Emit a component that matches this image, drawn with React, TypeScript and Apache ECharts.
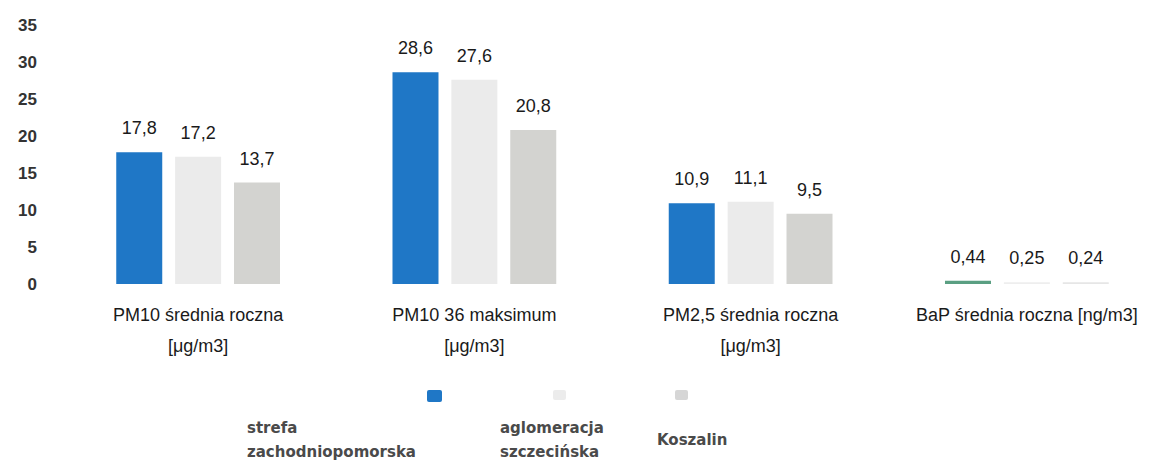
import React, { useEffect, useRef } from "react";
import * as echarts from "echarts";

const categories = [
  "PM10 średnia roczna\n[μg/m3]",
  "PM10 36 maksimum\n[μg/m3]",
  "PM2,5 średnia roczna\n[μg/m3]",
  "BaP średnia roczna [ng/m3]",
];
const seriesNames = ["strefa zachodniopomorska", "aglomeracja szczecińska", "Koszalin"];
const legendLabels = ["strefa\nzachodniopomorska", "aglomeracja\nszczecińska", "Koszalin"];
const strefa = [17.8, 28.6, 10.9, 0.44];
const aglomeracja = [17.2, 27.6, 11.1, 0.25];
const koszalin = [13.7, 20.8, 9.5, 0.24];
const yMin = 0;
const yMax = 35;
const yStep = 5;

const barColors = ["#1f77c6", "#ebebeb", "#d3d3d0"];
const bapColors = ["#5a9f82", "#eeeeee", "#e6e6e6"];

const fmt = (v: number) => String(v).replace(".", ",");

export default function App() {
  const ref = useRef<HTMLDivElement>(null);
  useEffect(() => {
    if (!ref.current) return;
    const chart = echarts.init(ref.current, null, { renderer: "svg" });
    const values = [strefa, aglomeracja, koszalin];
    const font = "Liberation Sans";
    const series = values.map((vals, si) => ({
      name: seriesNames[si],
      type: "bar",
      barWidth: 46,
      barGap: "28%",
      data: vals.map((v, ci) =>
        ci === 3 ? { value: v, itemStyle: { color: bapColors[si] } } : v
      ),
      itemStyle: { color: barColors[si] },
      label: {
        show: true,
        position: "top",
        distance: 15,
        formatter: (p: any) => fmt(p.value),
        fontFamily: font,
        fontSize: 18,
        color: "#1a1a1a",
      },
    }));

    const legendX = [247, 500, 657];
    const iconX = [427, 553, 675];
    const graphic: any[] = [];
    legendLabels.forEach((t, i) => {
      graphic.push({
        type: "rect",
        shape: { x: iconX[i], y: 390, width: i === 0 ? 15 : 13, height: i === 0 ? 12 : 10, r: 2 },
        style: { fill: i === 0 ? barColors[0] : i === 1 ? "#ececec" : "#d6d6d6" },
      });
      graphic.push({
        type: "text",
        x: legendX[i],
        y: (i === 2 ? 440 : 428) - 12,
        style: {
          text: t,
          fontFamily: "DejaVu Sans",
          fontWeight: "bold",
          fontSize: 15,
          lineHeight: 24,
          fill: "#4a4a4a",
          verticalAlign: "top",
        },
      });
    });

    chart.setOption({
      animation: false,
      grid: { left: 60, right: 0, top: 25, bottom: 176 },
      xAxis: {
        type: "category",
        data: categories,
        axisLine: { show: false },
        axisTick: { show: false },
        axisLabel: {
          interval: 0,
          margin: 15,
          fontFamily: font,
          fontSize: 18,
          lineHeight: 31,
          color: "#1a1a1a",
        },
      },
      yAxis: {
        type: "value",
        min: yMin,
        max: yMax,
        interval: yStep,
        axisLine: { show: false },
        axisTick: { show: false },
        splitLine: { show: false },
        axisLabel: {
          margin: 23,
          fontFamily: font,
          fontSize: 17,
          fontWeight: "bold",
          color: "#333",
        },
      },
      series,
      graphic,
    });
    return () => chart.dispose();
  }, []);
  return (
    <div
      ref={ref}
      style={{ position: "fixed", left: 0, top: 0, width: 1165, height: 460, background: "#fff" }}
    />
  );
}
